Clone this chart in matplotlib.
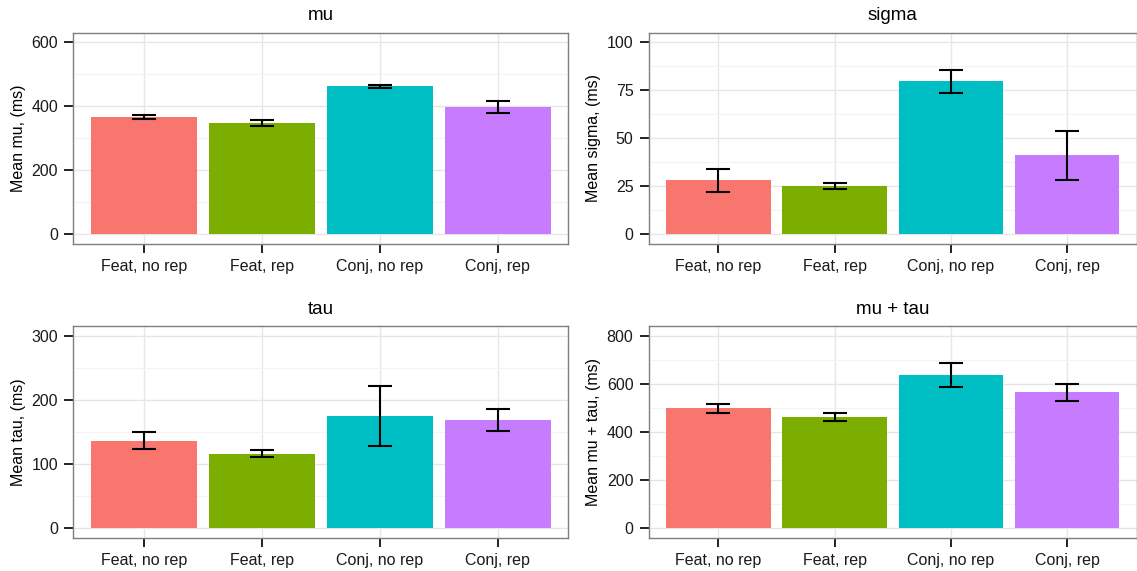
import matplotlib
matplotlib.use("Agg")
import matplotlib.pyplot as plt
import numpy as np

plt.rcParams['font.family'] = ['Liberation Sans', 'DejaVu Sans']

categories = ["Feat, no rep", "Feat, rep", "Conj, no rep", "Conj, rep"]
colors = ["#F8766D", "#7CAE00", "#00BFC4", "#C77CFF"]

mu_mean = [366, 347, 462, 397]
mu_err = [6.5, 9, 5, 19]
sigma_mean = [28.2, 25.2, 79.6, 41.1]
sigma_err = [6, 1.5, 5.9, 12.7]
tau_mean = [136.6, 116.4, 175, 168.8]
tau_err = [13, 6, 47, 17]
mutau_mean = [499, 462, 636, 565]
mutau_err = [19, 16, 51, 36]

panels = [
    ("mu", "Mean mu, (ms)", mu_mean, mu_err, [0, 200, 400, 600], 600),
    ("sigma", "Mean sigma, (ms)", sigma_mean, sigma_err, [0, 25, 50, 75, 100], 100),
    ("tau", "Mean tau, (ms)", tau_mean, tau_err, [0, 100, 200, 300], 300),
    ("mu + tau", "Mean mu + tau, (ms)", mutau_mean, mutau_err, [0, 200, 400, 600, 800], 800),
]

W, H = 1137, 571
fig = plt.figure(figsize=(W / 100, H / 100), dpi=100)

def rect(x0, x1, ytop, ybot):
    return [x0 / W, (H - ybot) / H, (x1 - x0) / W, (ybot - ytop) / H]

rects = [
    rect(73.3, 568.3, 32.7, 244),
    rect(648.7, 1136.7, 32.7, 244),
    rect(73.3, 568.3, 326, 538),
    rect(648.7, 1136.7, 326, 538),
]

for (title, ylabel, means, errs, ticks, top), r in zip(panels, rects):
    ax = fig.add_axes(r)
    x = np.arange(1, len(categories) + 1)
    ax.bar(x, means, width=0.9, color=colors, zorder=2)
    ax.errorbar(x, means, yerr=errs, fmt='none', ecolor='black', elinewidth=1.5,
                capsize=8.8, capthick=1.5, zorder=3)
    ax.set_xlim(0.4, 4.6)
    ax.set_ylim(-0.05 * top, 1.05 * top)
    ax.set_xticks(x)
    ax.set_xticklabels(categories)
    ax.set_yticks(ticks)
    minor = [(ticks[i] + ticks[i + 1]) / 2 for i in range(len(ticks) - 1)]
    ax.set_yticks(minor, minor=True)
    ax.grid(True, which='major', color='#e6e6e6', linewidth=1.0, zorder=0)
    ax.grid(True, which='minor', axis='y', color='#f3f3f3', linewidth=0.8, zorder=0)
    ax.set_axisbelow(True)
    ax.tick_params(axis='both', which='major', length=6.5, width=1.4, color='#222222',
                   labelsize=11.5, pad=4.5, labelcolor='#1a1a1a')
    ax.tick_params(axis='y', which='minor', length=0)
    for s in ax.spines.values():
        s.set_color('#7f7f7f')
        s.set_linewidth(1.0)
    ax.set_title(title, fontsize=13.5, pad=9)
    ax.set_ylabel(ylabel, fontsize=11.5, labelpad=4)

fig.savefig("out.png", dpi=100)
